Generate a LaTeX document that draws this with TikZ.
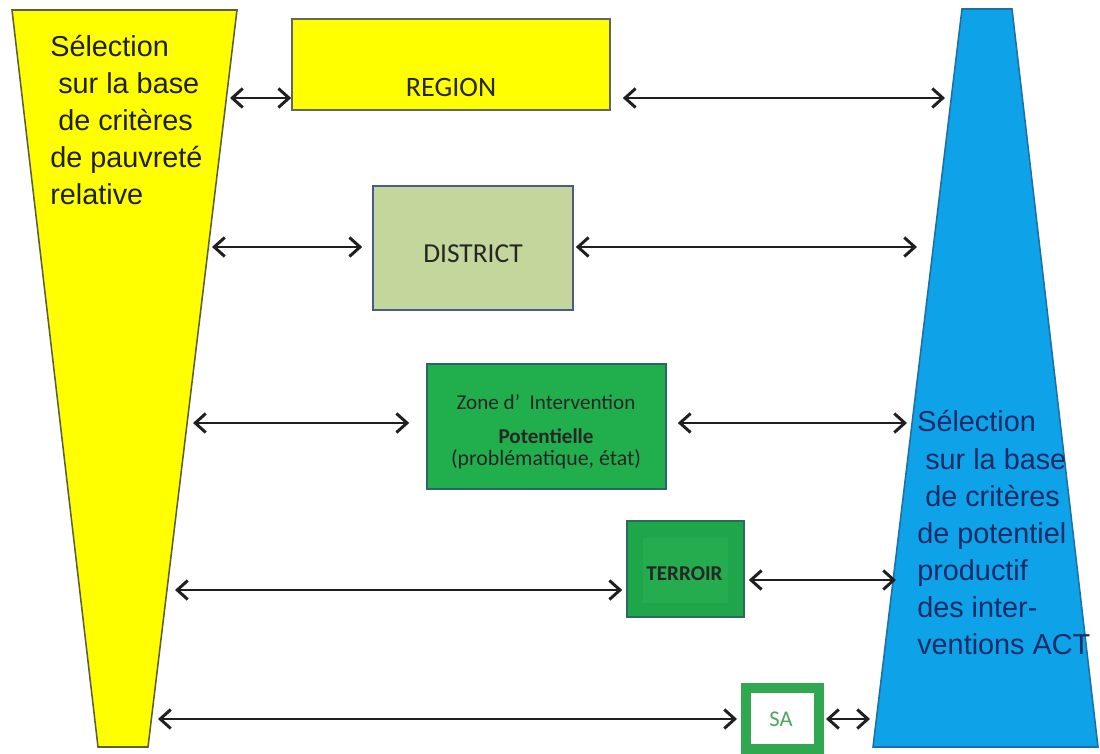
\documentclass[tikz,border=0pt]{standalone}
\usepackage{fontspec}
\setmainfont{Liberation Sans}
\newfontfamily\boxfont{Carlito}
\usetikzlibrary{arrows.meta}
\definecolor{yel}{HTML}{FFFF00}
\definecolor{yelline}{HTML}{5E5E3C}
\definecolor{blu}{HTML}{0EA2E8}
\definecolor{bluline}{HTML}{1D6FA6}
\definecolor{regline}{HTML}{666660}
\definecolor{disfill}{HTML}{C3D69B}
\definecolor{disline}{HTML}{4A5A8C}
\definecolor{zonefill}{HTML}{21AE4D}
\definecolor{zoneline}{HTML}{2E6468}
\definecolor{terfill}{HTML}{1FA64A}
\definecolor{terinner}{HTML}{24AC4F}
\definecolor{terline}{HTML}{2D6A5E}
\definecolor{saline}{HTML}{2FA84F}
\definecolor{satext}{HTML}{4DA65C}
\definecolor{navy}{HTML}{1A2C66}
\begin{document}
\begin{tikzpicture}[x=0.025cm,y=-0.025cm,
  conn/.style={{Straight Barb[length=7.5pt,width=13.5pt]}-{Straight Barb[length=7.5pt,width=13.5pt]}, line width=2.1pt, draw=black!88},
  box/.style={draw, inner sep=0pt, line width=1.1pt},
  side/.style={font=\fontsize{20.5}{24}\selectfont, inner sep=0pt, anchor=base west},
  btext/.style={font=\boxfont\fontsize{19.5}{23}\selectfont, inner sep=0pt, text=black!85},
  ztext/.style={font=\boxfont\fontsize{15}{18}\selectfont, inner sep=0pt, text=black!85}]
\useasboundingbox (0,0) rectangle (1100,754);
\clip (0,0) rectangle (1100,754);
\fill[white] (0,0) rectangle (1100,754);

% funnels
\filldraw[fill=yel, draw=yelline, line width=1.1pt] (12,10) -- (237,10) -- (148,747) -- (98,747) -- cycle;
\filldraw[fill=blu, draw=bluline, line width=1.1pt] (962,9) -- (1012,9) -- (1098,747) -- (873,747) -- cycle;

% left text
\node[side, text=black!88] (l1) at (50,57) {Sélection};
\node[side, text=black!88] (l2) at (58,94) {sur la base};
\node[side, text=black!88] (l3) at (58,131) {de critères};
\node[side, text=black!88] (l4) at (50,168) {de pauvreté};
\node[side, text=black!88] (l5) at (50,205) {relative};

% right text
\node[side, text=navy] (r1) at (917,432) {Sélection};
\node[side, text=navy] (r2) at (925,469) {sur la base};
\node[side, text=navy] (r3) at (925,506) {de critères};
\node[side, text=navy] (r4) at (917,543) {de potentiel};
\node[side, text=navy] (r5) at (917,580) {productif};
\node[side, text=navy] (r6) at (917,617) {des inter-};
\node[side, text=navy] (r7) at (917,654) {ventions ACT};

% boxes
\node[box, fill=yel, draw=regline, minimum width=7.95cm, minimum height=2.275cm] (region) at (451,64.5) {};
\node[box, fill=disfill, draw=disline, minimum width=5cm, minimum height=3.1cm] (district) at (473,248) {};
\node[box, fill=zonefill, draw=zoneline, minimum width=5.975cm, minimum height=3.125cm] (zone) at (546.5,426.5) {};
\node[box, fill=terfill, draw=terline, minimum width=2.925cm, minimum height=2.4cm] (terroir) at (685.5,569) {};
\fill[terinner] (643,538) rectangle (728,603);
\node[draw=saline, fill=white, line width=7.1pt, inner sep=0pt, minimum width=1.825cm, minimum height=1.525cm] (sa) at (782.5,718.5) {};

% box texts
\node[btext, font=\boxfont\fontsize{20}{24}\selectfont] (regiont) at (451,87) {REGION};
\node[btext] (districtt) at (473,253.5) {DISTRICT};
\node[ztext] (zone1) at (546,402) {Zone d’\ \ Intervention};
\node[ztext, font=\boxfont\bfseries\fontsize{15}{18}\selectfont] (zone2) at (546,436.5) {Potentielle};
\node[ztext, font=\boxfont\fontsize{15.5}{18}\selectfont] (zone3) at (546,459) {(problématique, état)};
\node[ztext, font=\boxfont\bfseries\fontsize{15}{18}\selectfont] (terroirt) at (684.5,574) {TERROIR};
\node[font=\boxfont\fontsize{16}{18}\selectfont, text=satext, inner sep=0pt] (sat) at (781,719) {SA};

% edge points on funnels
\coordinate (a1) at (230,98);
\coordinate (a2) at (212,247);
\coordinate (a3) at (193,423);
\coordinate (a4) at (175,590);
\coordinate (a5) at (158,719);
\coordinate (b1) at (945,98);
\coordinate (b2) at (917,247);
\coordinate (b3) at (907,423);
\coordinate (b4) at (896,580);
\coordinate (b5) at (870,719);

% connectors
\draw[conn] (a1) -- (a1 -| region.west);
\draw[conn, shorten <=0.3cm] (region.east |- b1) -- (b1);
\draw[conn, shorten >=0.25cm] (a2) -- (a2 -| district.west);
\draw[conn, shorten <=0.05cm] (district.east |- b2) -- (b2);
\draw[conn, shorten >=0.425cm] (a3) -- (a3 -| zone.west);
\draw[conn, shorten <=0.275cm] (zone.east |- b3) -- (b3);
\draw[conn, shorten >=0.1cm] (a4) -- (a4 -| terroir.west);
\draw[conn, shorten <=0.1cm] (terroir.east |- b4) -- (b4);
\draw[conn, shorten >=0.1cm] (a5) -- (a5 -| sa.west);
\draw[conn, shorten <=0.05cm] (sa.east |- b5) -- (b5);
\end{tikzpicture}
\end{document}
